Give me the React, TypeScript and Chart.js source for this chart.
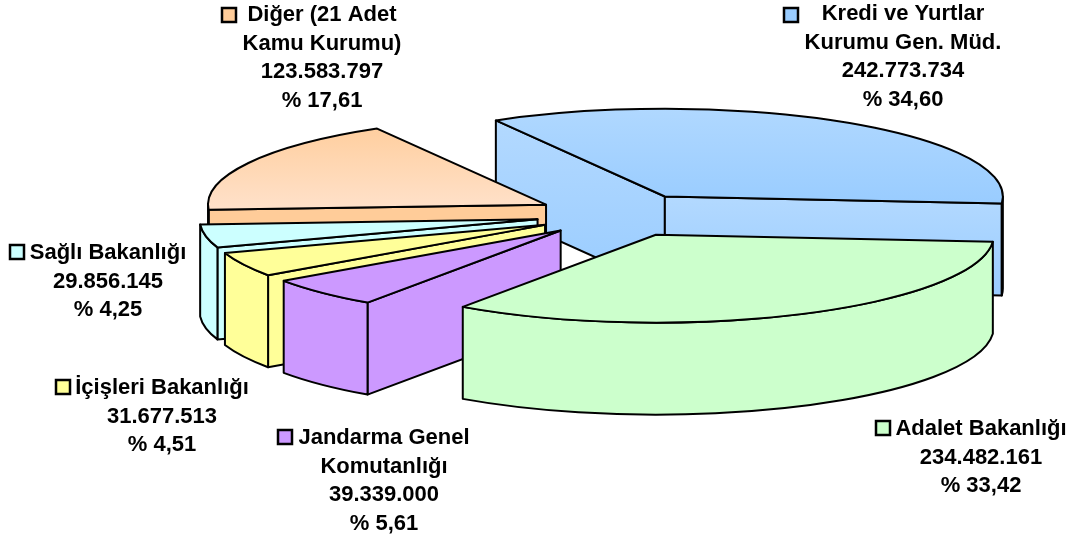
import React, { useEffect, useRef } from "react";
import { Chart, registerables } from "chart.js";

Chart.register(...registerables);

const categories = [
  ["Kredi ve Yurtlar", "Kurumu Gen. Müd."],
  ["Adalet Bakanlığı"],
  ["Jandarma Genel", "Komutanlığı"],
  ["İçişleri Bakanlığı"],
  ["Sağlı Bakanlığı"],
  ["Diğer (21 Adet", "Kamu Kurumu)"],
];
const amounts = [242773734, 234482161, 39339000, 31677513, 29856145, 123583797];
const amountLabels = ["242.773.734", "234.482.161", "39.339.000", "31.677.513", "29.856.145", "123.583.797"];
const percentLabels = ["% 34,60", "% 33,42", "% 5,61", "% 4,51", "% 4,25", "% 17,61"];

const baseColors = ["#99ccff", "#ccffcc", "#cc99ff", "#ffff99", "#ccffff", "#ffcc99"];
const topGradients = [
  ["#b0d8ff", "#99ccff"],
  ["#ccffcc", "#ccffcc"],
  ["#cc99ff", "#cc99ff"],
  ["#ffff99", "#ffff99"],
  ["#ccffff", "#ccffff"],
  ["#ffcc99", "#ffe2cc"],
];
const sideGradients = [
  ["#b3d9ff", "#99ccff"],
  ["#ccffcc", "#ccffcc"],
  ["#cc99ff", "#cc99ff"],
  ["#ffff99", "#ffff99"],
  ["#ccffff", "#ccffff"],
  ["#ffcc99", "#ffcc99"],
];
const paintOrder = [0, 5, 4, 3, 2, 1];

// layout of the free-standing labels: [centre x, first line y, key x, key y]
const labelLayout = [
  [903, 14, 784, 8],
  [981, 429, 876, 421],
  [384, 438, 278, 430],
  [162, 388, 56, 380],
  [108, 253, 10, 245],
  [322, 15, 222, 8],
];

const Y_SQUASH = 0.26;
const DEPTH = 92;
const LINE = 2;

const pie3d = {
  id: "pie3d",
  beforeDatasetDraw(chart: any) {
    const ctx: CanvasRenderingContext2D = chart.ctx;
    const arcs = chart.getDatasetMeta(0).data;
    const grad = (colors: string[], y0: number, y1: number) => {
      const g = ctx.createLinearGradient(0, y0, 0, y1);
      g.addColorStop(0, colors[0]);
      g.addColorStop(1, colors[1]);
      return g;
    };
    const paint = (path: () => void, fill: any) => {
      ctx.beginPath();
      path();
      ctx.closePath();
      ctx.fillStyle = fill;
      ctx.fill();
      ctx.stroke();
    };
    ctx.save();
    ctx.strokeStyle = "#000";
    ctx.lineWidth = LINE;
    ctx.lineJoin = "round";
    for (const i of paintOrder) {
      const a = arcs[i];
      const { startAngle: s, endAngle: e, outerRadius: R } = a;
      const off = a.options.offset;
      const mid = (s + e) / 2;
      const ax = a.x + Math.cos(mid) * off;
      const ay = a.y + Math.sin(mid) * off * Y_SQUASH;
      const rx = R;
      const ry = R * Y_SQUASH;
      const px = (t: number) => ax + rx * Math.cos(t);
      const py = (t: number) => ay + ry * Math.sin(t);
      const face = (t: number) =>
        paint(() => {
          ctx.moveTo(ax, ay);
          ctx.lineTo(px(t), py(t));
          ctx.lineTo(px(t), py(t) + DEPTH);
          ctx.lineTo(ax, ay + DEPTH);
        }, grad(sideGradients[i], Math.min(ay, py(t)), Math.max(ay, py(t)) + DEPTH));
      if (Math.cos(s) < 0) face(s);
      if (Math.cos(e) > 0) face(e);
      const ws = Math.max(s, 0);
      const we = Math.min(e, Math.PI);
      if (we > ws) {
        paint(() => {
          ctx.ellipse(ax, ay, rx, ry, 0, ws, we);
          ctx.ellipse(ax, ay + DEPTH, rx, ry, 0, we, ws, true);
        }, grad(sideGradients[i], ay, ay + ry + DEPTH));
      }
      paint(() => {
        ctx.moveTo(ax, ay);
        ctx.ellipse(ax, ay, rx, ry, 0, s, e);
      }, grad(topGradients[i], ay - (Math.sin(mid) < 0 ? ry : 0), ay + (Math.sin(mid) > 0 ? ry : 8)));
    }
    ctx.restore();
    return false;
  },
  afterDatasetsDraw(chart: any) {
    const ctx: CanvasRenderingContext2D = chart.ctx;
    ctx.save();
    ctx.font = 'bold 22px "Liberation Sans", Arial, sans-serif';
    ctx.fillStyle = "#000";
    ctx.textAlign = "center";
    ctx.textBaseline = "middle";
    categories.forEach((name, i) => {
      const [cx, y0, kx, ky] = labelLayout[i];
      const lines = [...name, amountLabels[i], percentLabels[i]];
      lines.forEach((t, j) => ctx.fillText(t, cx, y0 + j * 28.5));
      ctx.fillStyle = baseColors[i];
      ctx.strokeStyle = "#000";
      ctx.lineWidth = 2.5;
      ctx.fillRect(kx, ky, 14, 14);
      ctx.strokeRect(kx, ky, 14, 14);
      ctx.fillStyle = "#000";
    });
    ctx.restore();
  },
};

export default function App() {
  const ref = useRef<HTMLCanvasElement>(null);
  useEffect(() => {
    const chart = new Chart(ref.current!, {
      type: "pie",
      data: {
        labels: categories.map((c) => c.join(" ")),
        datasets: [
          {
            data: amounts,
            backgroundColor: baseColors,
            borderColor: "#000",
            offset: 84,
            clip: false,
          } as any,
        ],
      },
      options: {
        animation: false,
        responsive: false,
        rotation: -30,
        radius: 338,
        layout: { padding: { left: 165, bottom: 108 } },
        plugins: { legend: { display: false }, tooltip: { enabled: false } },
      } as any,
      plugins: [pie3d],
    });
    return () => chart.destroy();
  }, []);
  return (
    <div style={{ position: "absolute", left: 0, top: 0, width: 1075, height: 538, background: "#fff" }}>
      <canvas ref={ref} width={1075} height={538} style={{ display: "block" }} />
    </div>
  );
}
